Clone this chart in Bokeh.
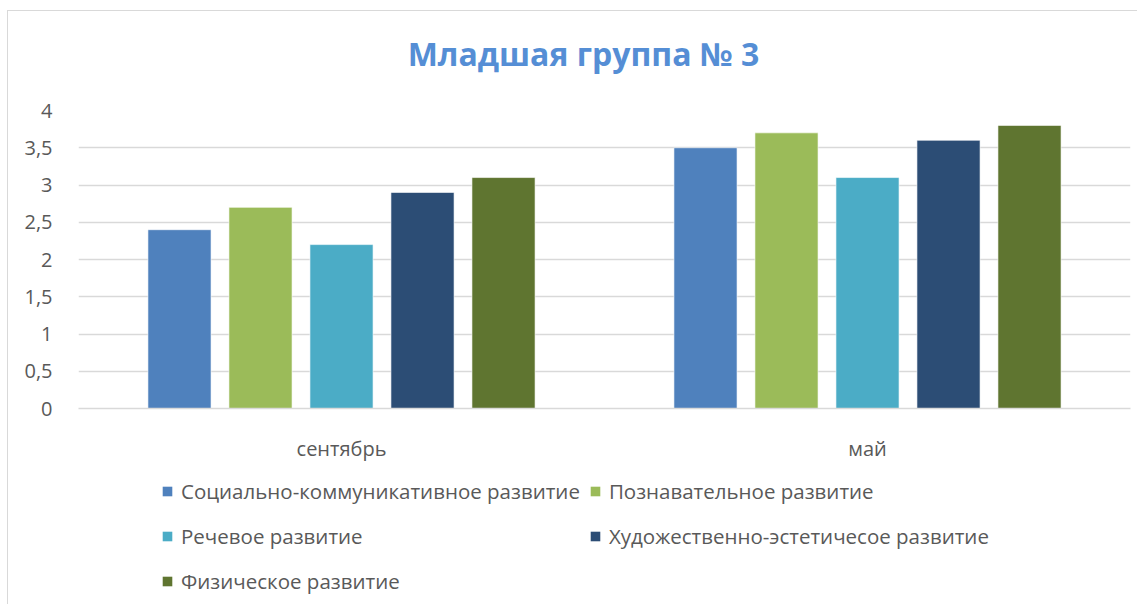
from bokeh.plotting import figure
from bokeh.layouts import column
from bokeh.models import FactorRange, Range1d, FixedTicker, Legend, LegendItem, Label, ColumnDataSource
from bokeh.transform import dodge
from bokeh.embed import file_html
from bokeh.resources import INLINE

title_text = "Младшая группа № 3"
periods = ["сентябрь", "май"]
series_names = [
    "Социально-коммуникативное развитие",
    "Познавательное развитие",
    "Речевое развитие",
    "Художественно-эстетичесое развитие",
    "Физическое развитие",
]
social = [2.4, 3.5]
cognitive = [2.7, 3.7]
speech = [2.2, 3.1]
artistic = [2.9, 3.6]
physical = [3.1, 3.8]
colors = ["#4F81BD", "#9BBB59", "#4BACC6", "#2C4D75", "#5F7530"]
y_ticks = [0, 0.5, 1, 1.5, 2, 2.5, 3, 3.5, 4]
y_tick_labels = ["0", "0,5", "1", "1,5", "2", "2,5", "3", "3,5", "4"]

FONT = "Open Sans"
GREY = "#595959"
cols = ["s0", "s1", "s2", "s3", "s4"]

src = ColumnDataSource(dict(period=periods, s0=social, s1=cognitive, s2=speech, s3=artistic, s4=physical))
xr = FactorRange(factors=periods, range_padding=0)

def blank(height, y_range):
    f = figure(width=1129, height=height, x_range=xr, y_range=y_range,
               x_axis_type=None, y_axis_type=None,
               min_border_left=70, min_border_right=7, min_border_top=0, min_border_bottom=0,
               output_backend="svg", toolbar_location=None)
    f.outline_line_color = None
    f.grid.grid_line_color = None
    return f

# title panel
tp = blank(70, Range1d(0, 1))
tp.add_layout(Label(x=505, y=28, x_units="screen", y_units="screen", text=title_text,
                    text_align="center", text_baseline="middle", text_font=FONT,
                    text_font_size="32px", text_font_style="bold", text_color="#558ED5"))

# main chart
p = figure(
    x_range=xr, y_range=Range1d(0, 4),
    frame_width=1052, frame_height=298,
    min_border_left=70, min_border_right=7, min_border_top=29, min_border_bottom=55,
    output_backend="svg", toolbar_location=None,
)
p.outline_line_color = None

for i, col in enumerate(cols):
    p.vbar(x=dodge("period", (i - 2) * 0.154, range=xr), top=col, width=0.12,
           source=src, fill_color=colors[i], line_color="white", line_width=0.6)

p.xgrid.grid_line_color = None
p.ygrid.grid_line_color = "#D9D9D9"
p.ygrid.grid_line_width = 1.3

p.yaxis.ticker = FixedTicker(ticks=y_ticks)
p.yaxis.major_label_overrides = {t: l for t, l in zip(y_ticks, y_tick_labels)}
p.yaxis.axis_line_color = None
p.yaxis.major_tick_line_color = None
p.yaxis.minor_tick_line_color = None
p.yaxis.major_label_standoff = 20
p.yaxis.major_label_text_font = FONT
p.yaxis.major_label_text_font_size = "20px"
p.yaxis.major_label_text_color = GREY

p.xaxis.axis_line_color = "#D9D9D9"
p.xaxis.axis_line_width = 1.3
p.xaxis.major_tick_line_color = None
p.xaxis.minor_tick_line_color = None
p.xaxis.major_label_standoff = 20
p.xaxis.major_label_text_font = FONT
p.xaxis.major_label_text_font_size = "20px"
p.xaxis.major_label_text_color = GREY

# legend panel: same series, scrolled out of its view so only the legend swatches show
lp = blank(140, Range1d(10, 11))
swatches = [lp.vbar(x="period", top=col, width=0.1, source=src, fill_color=colors[i], line_color=None)
            for i, col in enumerate(cols)]
legend = Legend(items=[LegendItem(label=n, renderers=[r]) for n, r in zip(series_names, swatches)],
                location=(83, 5), orientation="horizontal", ncols=2,
                padding=0, margin=0, spacing=9,
                glyph_width=12, glyph_height=12, label_standoff=8, label_height=36,
                label_text_font=FONT, label_text_font_size="20.5px", label_text_color=GREY,
                border_line_color=None, background_fill_alpha=0)
lp.add_layout(legend)

layout = column(tp, p, lp)
layout.margin = (10, 0, 0, 7)
layout.styles = {"border-left": "1px solid #D9D9D9", "border-top": "1px solid #D9D9D9"}

open("out.html", "w").write(file_html(layout, INLINE))
